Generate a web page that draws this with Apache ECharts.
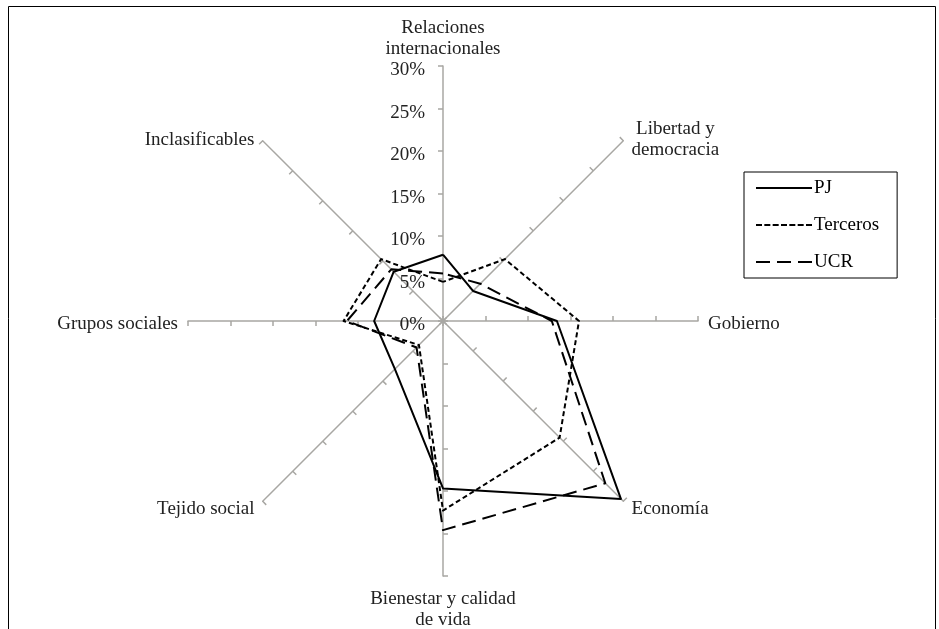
<!DOCTYPE html>
<html><head><meta charset="utf-8">
<script src="https://cdn.jsdelivr.net/npm/echarts@6/dist/echarts.min.js"></script>
<style>html,body{margin:0;padding:0;background:#fff}#c{width:939px;height:629px}</style>
</head><body><div id="c"></div>
<script>
// Categories clockwise from top
const categories = ['Relaciones\ninternacionales', 'Libertad y\ndemocracia', 'Gobierno', 'Economía', 'Bienestar y calidad\nde vida', 'Tejido social', 'Grupos sociales', 'Inclasificables'];
const seriesNames = ['PJ', 'Terceros', 'UCR'];
const pj       = [7.8, 5.0, 13.4, 29.6, 19.7, 8.0, 8.1, 8.2];
const terceros = [4.6, 10.3, 16.0, 19.4, 22.3, 4.0, 11.7, 10.3];
const ucr      = [5.6, 6.2, 12.8, 27.0, 24.6, 4.4, 11.3, 8.6];
const axisMin = 0, axisMax = 30, axisStep = 5;
const tickFormat = '{value}%';

const FONT = 'Liberation Serif';
const AXIS_COLOR = '#a8a7a3';
const TEXT_COLOR = '#222';
const CENTER = [443, 321];
const RADIUS = 255;

// ECharts radar lays axes counter-clockwise; reorder to get clockwise
const n = categories.length;
const order = categories.map((_, i) => (n - i) % n);
const reorder = arr => order.map(i => arr[i]);

const chart = echarts.init(document.getElementById('c'), null, {renderer: 'canvas'});
const option = {
  animation: false,
  color: ['#000', '#000', '#000'],
  graphic: [{
    type: 'rect', silent: true,
    shape: {x: 8.5, y: 6.5, width: 927, height: 640},
    style: {fill: 'none', stroke: '#000', lineWidth: 1}
  }],
  legend: {
    orient: 'vertical', left: 744, top: 172,
    itemWidth: 56, itemHeight: 2, itemGap: 17,
    padding: [6, 18, 6, 12],
    borderColor: '#000', borderWidth: 1,
    itemStyle: {borderWidth: 0},
    textStyle: {fontFamily: FONT, fontSize: 19, color: '#000', lineHeight: 20, padding: [0, 0, 0, -3]},
    data: [
      {name: seriesNames[0], icon: 'path://M0,0H56V2H0Z'},
      {name: seriesNames[1], icon: 'path://M0,0h6v2h-6zM8.33,0h6v2h-6zM16.67,0h6v2h-6zM25,0h6v2h-6zM33.33,0h6v2h-6zM41.67,0h6v2h-6zM50,0h6v2h-6z'},
      {name: seriesNames[2], icon: 'path://M0,0h14v2h-14zM21,0h14v2h-14zM42,0h14v2h-14z'}
    ]
  },
  polar: {center: CENTER, radius: RADIUS},
  angleAxis: {type: 'value', min: 0, max: 360, startAngle: 90, show: false},
  radiusAxis: {
    type: 'value', min: axisMin, max: axisMax, interval: axisStep,
    axisLine: {show: false}, axisTick: {show: false}, splitLine: {show: false},
    axisLabel: {formatter: tickFormat, margin: 18, fontFamily: FONT, fontSize: 19, color: TEXT_COLOR, verticalAlign: 'top', lineHeight: 9},
    z: 5
  },
  radar: {
    center: CENTER, radius: RADIUS, startAngle: 90, splitNumber: (axisMax - axisMin) / axisStep,
    shape: 'polygon',
    indicator: reorder(categories).map(name => ({name: name, min: axisMin, max: axisMax})),
    nameGap: 6,
    axisName: {
      color: TEXT_COLOR, fontFamily: FONT, fontSize: 19, lineHeight: 21, padding: [7, 4, 0, 4],
      formatter: v => v.split('\n').map(s => '{c|' + s + '}').join('\n'),
      rich: {c: {align: 'center', color: TEXT_COLOR, fontFamily: FONT, fontSize: 19, lineHeight: 21}}
    },
    axisLine: {lineStyle: {color: AXIS_COLOR, width: 1.5}},
    axisTick: {show: true, length: 5, lineStyle: {color: AXIS_COLOR, width: 1.5}},
    axisLabel: {show: false},
    splitLine: {show: false},
    splitArea: {show: false}
  },
  series: [{
    type: 'radar', symbol: 'none', silent: true,
    data: [
      {name: seriesNames[0], value: reorder(pj), lineStyle: {color: '#000', width: 2, type: 'solid'}, itemStyle: {color: '#000'}},
      {name: seriesNames[1], value: reorder(terceros), lineStyle: {color: '#000', width: 2, type: [5, 3]}, itemStyle: {color: '#000'}},
      {name: seriesNames[2], value: reorder(ucr), lineStyle: {color: '#000', width: 2, type: [14, 7]}, itemStyle: {color: '#000'}}
    ]
  }]
};
chart.setOption(option);
</script>
</body></html>
